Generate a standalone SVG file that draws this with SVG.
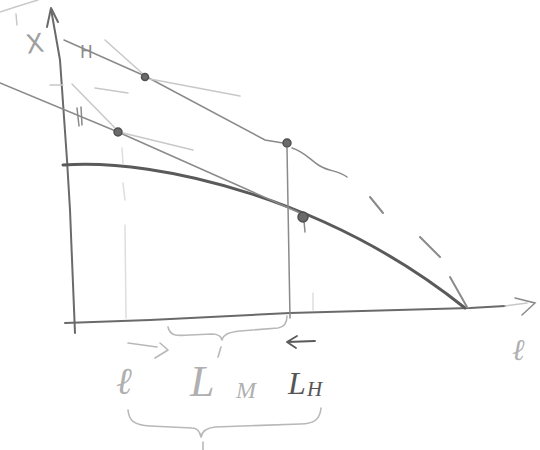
<svg xmlns="http://www.w3.org/2000/svg" width="540" height="450" viewBox="0 0 540 450">
<style>
.ax{fill:none;stroke:#6a6a6a;stroke-width:2;stroke-linecap:round;stroke-linejoin:round}
.thick{fill:none;stroke:#5a5a5a;stroke-width:3;stroke-linecap:round}
.mid{fill:none;stroke:#8a8a8a;stroke-width:1.5;stroke-linecap:round}
.faint{fill:none;stroke:#c8c8c8;stroke-width:1.5;stroke-linecap:round}
.vfaint{fill:none;stroke:#dedede;stroke-width:1.5;stroke-linecap:round}
.dash{fill:none;stroke:#8a8a8a;stroke-width:2;stroke-linecap:round}
.dot{fill:#6a6a6a;stroke:#505050;stroke-width:1.5}
.lt{fill:none;stroke:#b8b8b8;stroke-width:1.6;stroke-linecap:round;stroke-linejoin:round}
.dk{fill:none;stroke:#5a5a5a;stroke-width:1.8;stroke-linecap:round;stroke-linejoin:round}
.lbl-lt{fill:#b0b0b0;font-family:"Liberation Serif",serif;font-style:italic}
.lbl-dk{fill:#555;font-family:"Liberation Serif",serif;font-style:italic}
</style>
<rect width="540" height="450" fill="#ffffff"/>
<path class="faint" d="M0,12 Q18,6 38,0"/>
<path class="faint" d="M16,14 L17,25"/>
<g id="axes">
<path class="ax" d="M75,333 L70,210 L67,160 L60,60 L51,9"/>
<path class="ax" d="M47,27 L51,8 L58,22"/>
<path class="ax" d="M65,323 L150,320 L290,313 L470,308 L505,306"/>
<path class="faint" d="M505,306 L527,303"/>
<path class="mid" d="M515,298 L535,303 L522,315"/>
<text x="26" y="53" font-size="26" fill="#a0a0a0" font-family="DejaVu Sans, sans-serif" transform="rotate(-8 32 45)">X</text>
<text class="lbl-lt" x="512" y="360" font-size="30" fill="#a0a0a0" font-family="DejaVu Serif, serif">ℓ</text>
</g>
<g id="connectors">
<path class="thick" d="M63,165 C160,158 330,200 465,308"/>
<path class="mid" d="M64,40 L145,76 L265,140 L283,143"/>
<path class="faint" d="M105,40 L143,74"/>
<path class="faint" d="M150,79 L240,96"/>
<path class="mid" d="M292,148 C305,152 310,160 320,166 C330,172 338,170 347,177"/>
<path class="dash" d="M370,197 L383,213"/>
<path class="dash" d="M420,237 L440,257"/>
<path class="dash" d="M450,277 L467,307"/>
<path class="mid" d="M0,83 L118,132 L300,213"/>
<path class="faint" d="M72,84 L115,128"/>
<path class="faint" d="M95,88 L128,93"/>
<path class="faint" d="M123,133 L193,150"/>
<path class="faint" d="M50,85 L63,85"/>
<path class="vfaint" d="M122,148 L123,164 M123,183 L125,200 M125,225 L126,318"/>
<path class="mid" d="M287,148 L290,318"/>
<path class="mid" d="M304,221 L305,232"/>
<path class="vfaint" d="M313,293 L313,310"/>
<text x="80" y="58" font-size="17" fill="#8a8a8a" font-family="DejaVu Sans, sans-serif">H</text>
<path class="mid" d="M77,108 L79,126 M81,107 L82,125"/>
</g>
<g id="points">
<circle class="dot" cx="145" cy="77" r="3.5"/>
<circle class="dot" cx="118" cy="132" r="4"/>
<circle class="dot" cx="287" cy="143" r="4"/>
<circle class="dot" cx="303" cy="217" r="5"/>
</g>
<g id="labels">
<path class="lt" d="M168,327 C170,336 176,336 190,335 L212,334 C218,334 221,336 222,340 C223,335 228,332 240,331 L278,328 C285,327 287,322 287,316"/>
<path class="lt" d="M128,343 L157,347 M160,343 L168,350 L155,358"/>
<text class="lbl-lt" x="116" y="394" font-size="38" font-family="DejaVu Serif, serif">ℓ</text>
<path class="lt" d="M221,347 L218,357"/>
<text class="lbl-lt" x="190" y="396" font-size="44">L</text>
<text class="lbl-lt" x="236" y="398" font-size="24">M</text>
<path class="dk" d="M287,342 L315,341 M297,336 L287,342 L296,348"/>
<text class="lbl-dk" x="288" y="394" font-size="32">L</text>
<text class="lbl-dk" x="307" y="396" font-size="21">H</text>
<path class="lt" d="M128,410 C129,420 133,425 150,426 L192,428 C198,428 200,432 201,437 C202,432 205,428 215,427 L300,424 C316,424 320,418 321,408"/>
<path class="lt" d="M203,442 L203,450"/>
</g>
</svg>
